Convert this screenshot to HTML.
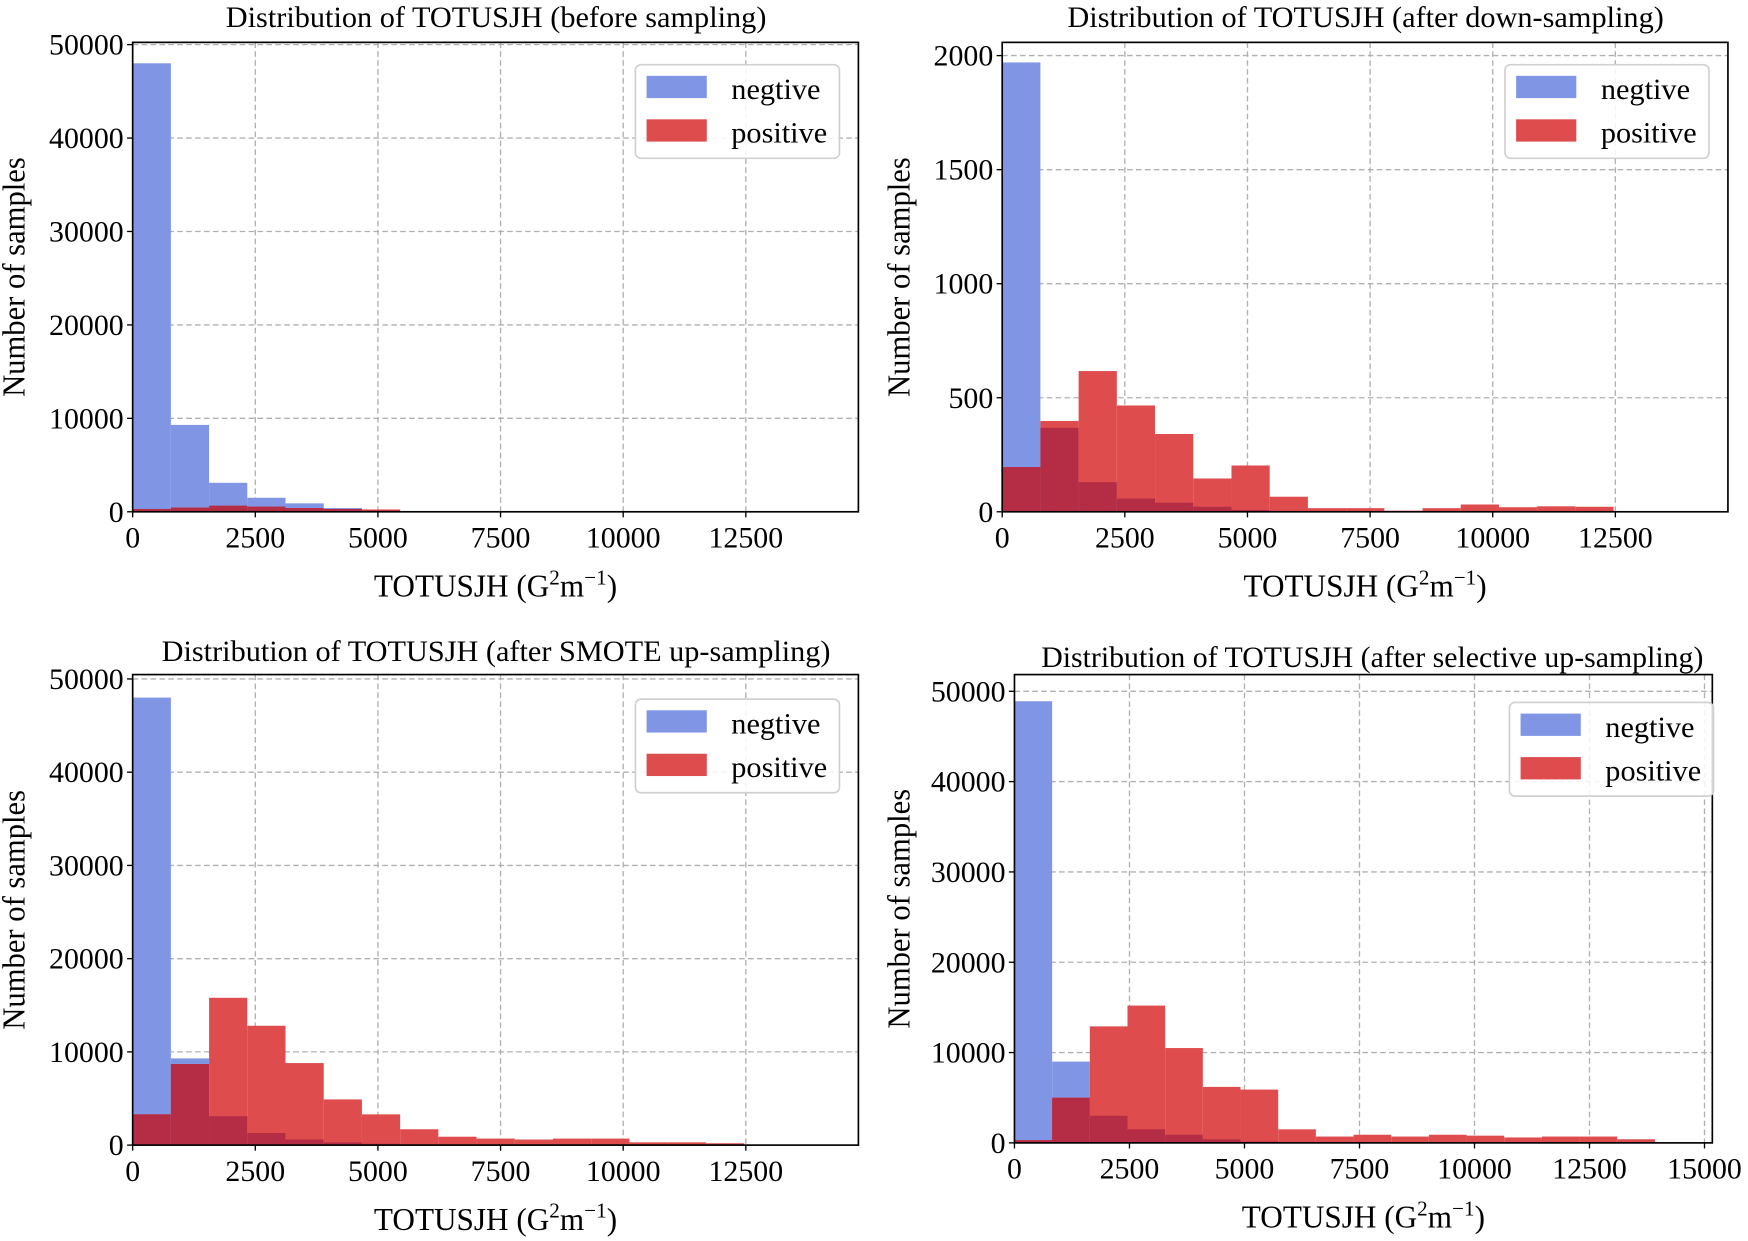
<!DOCTYPE html>
<html><head><meta charset="utf-8"><style>
html,body{margin:0;padding:0;background:#fff;}
svg{display:block;font-family:"Liberation Serif",serif;}
</style></head><body>
<svg id="fig" width="1748" height="1241" viewBox="0 0 1568 1113" preserveAspectRatio="none" xmlns="http://www.w3.org/2000/svg"></svg>
<script>
// ---- data ----
const p1Neg = [48000, 9300, 3100, 1500, 900, 400, 150, 50, 20, 10, 0, 0, 0, 0, 0, 0, 0, 0, 0];
const p1Pos = [300, 450, 650, 550, 400, 300, 250, 80, 30, 10, 10, 10, 10, 5, 5, 5, 5, 0, 0];
const p2Neg = [1970, 368, 130, 58, 40, 22, 8, 3, 0, 0, 0, 0, 0, 0, 0, 0, 0, 0, 0];
const p2Pos = [196, 398, 617, 466, 341, 146, 203, 66, 16, 16, 5, 16, 32, 20, 24, 22, 0, 0, 0];
const p3Neg = [48000, 9300, 3100, 1300, 600, 300, 150, 50, 20, 10, 0, 0, 0, 0, 0, 0, 0, 0, 0];
const p3Pos = [3300, 8700, 15800, 12800, 8800, 4900, 3300, 1700, 900, 700, 600, 700, 700, 300, 300, 200, 0, 0, 0];
const p4Neg = [48900, 9000, 3000, 1500, 900, 400, 150, 50, 20, 10, 0, 0, 0, 0, 0, 0, 0];
const p4Pos = [300, 5000, 12900, 15200, 10500, 6200, 5900, 1500, 700, 900, 700, 900, 800, 600, 700, 700, 400];
const xTicks1 = [0, 2500, 5000, 7500, 10000, 12500];
const xTicks4 = [0, 2500, 5000, 7500, 10000, 12500, 15000];
const yTicksBig = [0, 10000, 20000, 30000, 40000, 50000];
const yTicksSmall = [0, 500, 1000, 1500, 2000];
const titles = ["Distribution of TOTUSJH (before sampling)", "Distribution of TOTUSJH (after down-sampling)", "Distribution of TOTUSJH (after SMOTE up-sampling)", "Distribution of TOTUSJH (after selective up-sampling)"];

const NS = "http://www.w3.org/2000/svg";
const svg = document.getElementById('fig');
function el(tag, attrs, parent, text){
  const e = document.createElementNS(NS, tag);
  for (const k in attrs) e.setAttribute(k, attrs[k]);
  if (text !== undefined) e.textContent = text;
  (parent || svg).appendChild(e);
  return e;
}
function panel(cfg){
  const g = el('g', {});
  
  
  const {L, R, T, B, xmax, ymax, bw} = cfg;
  const sx = v => L + v / xmax * (R - L);
  const sy = v => B - v / ymax * (B - T);
  cfg.xt.forEach(t => {
    const x = sx(t);
    if (t > 0) {
      const gl = el('line', {x1:x, x2:x, y1:T, y2:B, stroke:'#b0b0b0', 'stroke-width':1.2, 'stroke-dasharray':'5,3'}, g);
      
      
    }
    el('line', {x1:x, x2:x, y1:B, y2:B+5, stroke:'#000', 'stroke-width':1.2}, g);
    const tl = el('text', {x:x, y:B+32, 'text-anchor':'middle', 'font-size':27, textLength:(String(t).length*13.4), lengthAdjust:'spacingAndGlyphs'}, g, String(t));
    
    
  });
  cfg.yt.forEach(t => {
    const y = sy(t);
    if (t > 0) {
      const gl = el('line', {x1:L, x2:R, y1:y, y2:y, stroke:'#b0b0b0', 'stroke-width':1.2, 'stroke-dasharray':'5,3'}, g);
      
      
    }
    el('line', {x1:L-5, x2:L, y1:y, y2:y, stroke:'#000', 'stroke-width':1.2}, g);
    const tl = el('text', {x:L-8, y:y+9, 'text-anchor':'end', 'font-size':27, textLength:(String(t).length*13.4), lengthAdjust:'spacingAndGlyphs'}, g, String(t));
    
    
  });
  const n = Math.max(cfg.neg.length, cfg.pos.length);
  for (let i = 0; i < n; i++) {
    const x0 = sx(i * bw), x1 = sx((i + 1) * bw);
    const nv = cfg.neg[i] || 0, pv = cfg.pos[i] || 0;
    if (nv > 0) {
      const r = el('rect', {x:x0, y:sy(nv), width:x1-x0, height:B-sy(nv), fill:'#8096e5'}, g);
      
      
    }
    if (pv > 0) {
      const r = el('rect', {x:x0, y:sy(pv), width:x1-x0, height:B-sy(pv), fill:'#de4c4e'}, g);
      
      
    }
    const ov = Math.min(nv, pv);
    if (ov > 0) {
      const r = el('rect', {x:x0, y:sy(ov), width:x1-x0, height:B-sy(ov), fill:'#b52d45'}, g);
      
      
    }
  }
  const fr = el('rect', {x:L, y:T, width:R-L, height:B-T, fill:'none', stroke:'#000', 'stroke-width':1.5}, g);
  
  
  const tt = el('text', {x:cfg.tx, y:cfg.ty, 'text-anchor':'middle', 'font-size':27, textLength:cfg.tw, lengthAdjust:'spacingAndGlyphs'}, g, cfg.title);
  
  
  const xl = el('text', {x:(L+R)/2, y:cfg.xly, 'text-anchor':'middle', 'font-size':28}, g);
  
  
  el('tspan', {}, xl, 'TOTUSJH (G');
  el('tspan', {dy:-11, 'font-size':19}, xl, '2');
  el('tspan', {dy:11}, xl, 'm');
  el('tspan', {dy:-11, 'font-size':19}, xl, '\u22121');
  el('tspan', {dy:11}, xl, ')');
  const yx = cfg.ylx, yy = (T+B)/2;
  const yl = el('text', {x:yx, y:yy, 'text-anchor':'middle', 'font-size':28, textLength:215, lengthAdjust:'spacingAndGlyphs', transform:`rotate(-90 ${yx} ${yy})`}, g, 'Number of samples');
  
  
  const lg = el('g', {}, g);
  
  
  const lx = cfg.lx, ly = cfg.ly;
  el('rect', {x:lx, y:ly, width:183, height:84, rx:5, fill:'#fff', 'fill-opacity':0.85, stroke:'#d0d0d0', 'stroke-width':1.5}, lg);
  const e1 = el('g', {}, lg);
  
  
  el('rect', {x:lx+10, y:ly+10, width:54, height:20, fill:'#8096e5'}, e1);
  el('text', {x:lx+86, y:ly+31, 'font-size':27, textLength:80, lengthAdjust:'spacingAndGlyphs'}, e1, 'negtive');
  const e2 = el('g', {}, lg);
  
  
  el('rect', {x:lx+10, y:ly+49, width:54, height:20, fill:'#de4c4e'}, e2);
  el('text', {x:lx+86, y:ly+70, 'font-size':27, textLength:86, lengthAdjust:'spacingAndGlyphs'}, e2, 'positive');
}
panel({name:'panel-before-sampling', L:119, R:770, T:38, B:459, xmax:14795, ymax:50240, bw:779, neg:p1Neg, pos:p1Pos, xt:xTicks1, yt:yTicksBig, title:titles[0], tw:485, tx:445, ty:24, xly:535, ylx:22, lx:570, ly:58});
panel({name:'panel-down-sampling', L:899, R:1550, T:38, B:459, xmax:14795, ymax:2058, bw:779, neg:p2Neg, pos:p2Pos, xt:xTicks1, yt:yTicksSmall, title:titles[1], tw:535, tx:1225, ty:24, xly:535, ylx:816, lx:1350, ly:58});
panel({name:'panel-smote', L:119, R:770, T:605, B:1027, xmax:14795, ymax:50470, bw:779, neg:p3Neg, pos:p3Pos, xt:xTicks1, yt:yTicksBig, title:titles[2], tw:600, tx:445, ty:593, xly:1103, ylx:22, lx:570, ly:627});
panel({name:'panel-selective', L:910, R:1536, T:605, B:1025, xmax:15170, ymax:51850, bw:819, neg:p4Neg, pos:p4Pos, xt:xTicks4, yt:yTicksBig, title:titles[3], tw:594, tx:1231, ty:598, xly:1101, ylx:816, lx:1354, ly:630});
</script>
</body></html>
